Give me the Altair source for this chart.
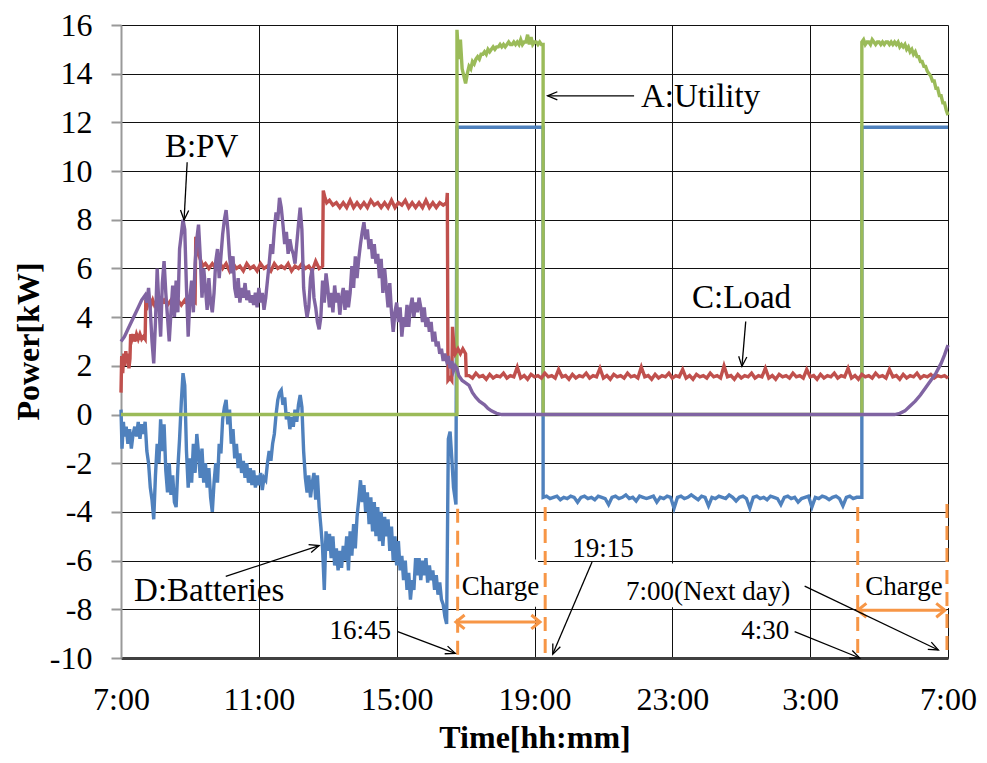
import math
import altair as alt
import pandas as pd

# ---------------- data (hours since midnight of day 1; 31 = 7:00 next day) ----------------
X_TICKS = [7, 11, 15, 19, 23, 27, 31]
Y_TICKS = [-10, -8, -6, -4, -2, 0, 2, 4, 6, 8, 10, 12, 14, 16]

# B:PV  (t, kW)
pv_day = [
    (7.00, 3.0), (7.10, 3.2), (7.20, 3.5), (7.30, 3.8), (7.40, 4.1), (7.50, 4.4), (7.60, 4.7), (7.70, 4.9),
    (7.75, 4.6), (7.80, 5.2), (7.85, 4.3), (7.90, 3.0), (7.95, 2.1), (8.00, 3.8), (8.05, 6.0), (8.10, 4.5),
    (8.15, 3.2), (8.20, 5.4), (8.25, 6.3), (8.30, 5.0), (8.35, 4.0), (8.40, 3.0), (8.45, 4.2), (8.50, 5.3),
    (8.55, 4.0), (8.60, 5.5), (8.65, 4.2), (8.70, 6.8), (8.75, 7.4), (8.80, 8.0), (8.85, 7.6), (8.90, 5.2),
    (8.95, 3.2), (9.00, 4.8), (9.05, 5.5), (9.10, 4.2), (9.15, 6.2), (9.20, 7.2), (9.25, 7.8), (9.30, 6.5),
    (9.35, 4.8), (9.40, 6.0), (9.45, 5.2), (9.50, 4.3), (9.55, 5.6), (9.60, 4.6), (9.65, 4.2), (9.70, 5.0),
    (9.75, 6.3), (9.80, 6.8), (9.85, 5.6), (9.90, 6.5), (9.95, 7.4), (10.00, 8.0), (10.05, 8.4), (10.10, 7.6),
    (10.15, 6.5), (10.20, 5.8), (10.25, 6.5), (10.30, 5.2), (10.35, 4.8), (10.40, 5.6), (10.45, 4.6), (10.50, 5.2),
    (10.55, 4.8), (10.60, 5.4), (10.65, 4.7), (10.70, 5.1), (10.75, 4.6), (10.80, 4.9), (10.85, 4.5), (10.90, 5.0),
    (10.95, 4.4), (11.00, 5.2), (11.05, 4.6), (11.10, 5.0), (11.15, 4.3), (11.20, 4.8), (11.25, 5.5), (11.30, 6.2),
    (11.35, 7.0), (11.40, 6.6), (11.45, 7.6), (11.50, 8.3), (11.55, 8.0), (11.60, 8.9), (11.65, 8.5), (11.70, 7.8),
    (11.75, 7.0), (11.80, 7.5), (11.85, 6.6), (11.90, 7.2), (11.95, 6.8), (12.00, 6.6), (12.05, 6.2), (12.10, 7.0),
    (12.15, 7.8), (12.20, 8.5), (12.25, 7.6), (12.30, 5.2), (12.35, 4.5), (12.40, 4.0), (12.45, 4.4), (12.50, 5.6),
    (12.55, 6.0), (12.60, 4.8), (12.65, 4.4), (12.70, 3.8), (12.75, 3.5), (12.80, 4.0), (12.85, 5.5), (12.90, 4.6),
    (12.95, 5.8), (13.00, 5.2), (13.05, 4.4), (13.10, 5.0), (13.15, 4.2), (13.20, 5.3), (13.25, 4.6), (13.30, 5.0),
    (13.35, 4.1), (13.40, 4.8), (13.45, 5.2), (13.50, 4.3), (13.55, 5.1), (13.60, 4.4), (13.65, 5.0), (13.70, 6.1),
    (13.75, 5.2), (13.80, 6.5), (13.85, 5.6), (13.90, 6.4), (13.95, 7.0), (14.00, 7.5), (14.05, 7.9), (14.10, 7.2),
    (14.15, 7.6), (14.20, 6.8), (14.25, 7.2), (14.30, 6.4), (14.35, 7.0), (14.40, 6.2), (14.45, 6.6), (14.50, 5.6),
    (14.55, 6.4), (14.60, 5.0), (14.65, 6.0), (14.70, 5.2), (14.75, 4.4), (14.80, 5.4), (14.85, 4.2), (14.90, 3.4),
    (14.95, 4.2), (15.00, 4.6), (15.05, 3.8), (15.10, 4.4), (15.15, 3.2), (15.20, 4.0), (15.25, 3.6), (15.30, 4.5),
    (15.35, 3.6), (15.40, 4.4), (15.45, 4.8), (15.50, 4.0), (15.55, 4.6), (15.60, 4.2), (15.65, 4.8), (15.70, 4.4),
    (15.75, 3.8), (15.80, 4.4), (15.85, 3.6), (15.90, 4.0), (15.95, 3.4), (16.00, 3.8), (16.05, 3.0), (16.10, 3.4),
    (16.15, 2.8), (16.20, 3.0), (16.25, 2.5), (16.30, 2.7), (16.35, 2.2), (16.40, 2.5), (16.45, 2.2), (16.50, 2.4),
    (16.55, 1.9), (16.60, 2.2), (16.65, 1.8), (16.70, 2.0), (16.75, 1.9), (16.80, 1.6), (16.85, 1.5), (16.90, 1.4),
    (17.00, 1.3), (17.10, 1.2), (17.20, 0.9), (17.30, 0.7), (17.40, 0.55), (17.55, 0.4), (17.65, 0.25), (17.75, 0.15),
    (17.90, 0.05), (18.05, 0.0),
]
pv_night = [(29.45, 0.0)]
pv_morning = [(29.60, 0.05), (29.75, 0.15), (29.90, 0.35), (30.05, 0.55), (30.20, 0.8), (30.35, 1.1),
              (30.50, 1.4), (30.65, 1.7), (30.80, 2.1), (30.90, 2.45), (31.00, 2.85)]

# C:Load
load_day = [
    (7.00, 0.9), (7.02, 2.4), (7.05, 1.7), (7.08, 2.5), (7.11, 2.0), (7.14, 2.6), (7.17, 2.1), (7.20, 2.5),
    (7.23, 1.9), (7.26, 2.3), (7.28, 3.3), (7.32, 3.1), (7.36, 3.3), (7.40, 3.0), (7.45, 3.3), (7.50, 3.1),
    (7.55, 3.3), (7.60, 3.1), (7.65, 3.2), (7.70, 3.1), (7.72, 4.7), (7.77, 4.5), (7.82, 4.8), (7.87, 4.5),
    (7.92, 4.7), (7.97, 4.5), (8.05, 4.7), (8.15, 4.5), (8.25, 4.7), (8.35, 4.5), (8.45, 4.7), (8.55, 4.5),
    (8.65, 4.7), (8.75, 4.5), (8.85, 4.7), (8.95, 4.5), (9.05, 4.7), (9.15, 4.6), (9.17, 7.3), (9.22, 6.8),
    (9.27, 6.5), (9.32, 6.3), (9.37, 6.1), (9.45, 6.2), (9.55, 6.0), (9.65, 6.2), (9.75, 6.0), (9.85, 6.3),
    (9.95, 6.0), (10.05, 6.2), (10.15, 5.9), (10.25, 6.2), (10.35, 6.0), (10.45, 6.1), (10.55, 5.9), (10.65, 6.2),
    (10.75, 6.0), (10.85, 6.1), (10.95, 5.9), (11.05, 6.2), (11.15, 6.0), (11.25, 6.1), (11.35, 5.9), (11.45, 6.2),
    (11.55, 6.0), (11.65, 6.1), (11.75, 6.0), (11.85, 6.2), (11.95, 5.9), (12.05, 6.1), (12.15, 6.0), (12.25, 6.2),
    (12.35, 6.0), (12.45, 6.1), (12.55, 5.9), (12.65, 6.3), (12.75, 6.0), (12.85, 6.1), (12.87, 9.2), (12.92, 8.9),
    (12.97, 8.7), (13.05, 8.8), (13.15, 8.6), (13.25, 8.7), (13.35, 8.5), (13.45, 8.7), (13.55, 8.5), (13.65, 8.8),
    (13.75, 8.5), (13.85, 8.7), (13.95, 8.5), (14.05, 8.7), (14.15, 8.5), (14.25, 8.8), (14.35, 8.6), (14.45, 8.7),
    (14.55, 8.5), (14.65, 8.7), (14.75, 8.5), (14.85, 8.8), (14.95, 8.5), (15.05, 8.7), (15.15, 8.6), (15.25, 8.8),
    (15.35, 8.5), (15.45, 8.7), (15.55, 8.5), (15.65, 8.7), (15.75, 8.5), (15.85, 8.8), (15.95, 8.5), (16.05, 8.7),
    (16.15, 8.5), (16.25, 8.7), (16.35, 8.6), (16.45, 8.7), (16.47, 9.1), (16.49, 1.4), (16.55, 1.5), (16.60, 1.4),
    (16.62, 3.6), (16.66, 2.8), (16.70, 2.5), (16.78, 2.7), (16.85, 2.5), (16.92, 2.7), (17.00, 2.5), (17.02, 1.6),
]
LOAD_NIGHT_T0, LOAD_NIGHT_STEP = 17.1, 0.1
load_night = [
    1.6, 1.5, 1.7, 1.55, 1.6, 1.45, 1.65, 1.5, 1.6, 1.55,
    1.7, 1.5, 1.6, 1.55, 1.95, 1.5, 1.6, 1.45, 1.65, 1.55,
    1.6, 1.5, 1.7, 1.55, 1.6, 1.5, 1.85, 1.55, 1.6, 1.45,
    1.65, 1.5, 1.6, 1.55, 1.7, 1.5, 1.6, 1.55, 1.9, 1.5,
    1.6, 1.45, 1.65, 1.55, 1.6, 1.5, 1.7, 1.55, 1.6, 1.5,
    1.95, 1.55, 1.6, 1.45, 1.65, 1.5, 1.6, 1.55, 1.7, 1.5,
    1.6, 1.55, 1.85, 1.5, 1.6, 1.45, 1.65, 1.55, 1.6, 1.5,
    1.7, 1.55, 1.6, 1.5, 2.0, 1.55, 1.6, 1.45, 1.65, 1.5,
    1.6, 1.55, 1.7, 1.5, 1.6, 1.55, 1.9, 1.5, 1.6, 1.45,
    1.65, 1.55, 1.6, 1.5, 1.7, 1.55, 1.6, 1.5, 1.85, 1.55,
    1.6, 1.45, 1.65, 1.5, 1.6, 1.55, 1.7, 1.5, 1.6, 1.55,
    1.9, 1.5, 1.6, 1.45, 1.65, 1.55, 1.6, 1.5, 1.7, 1.55,
    1.6, 1.5, 1.85, 1.55, 1.6, 1.45, 1.65, 1.5, 1.6, 1.55,
    1.7, 1.5, 1.6, 1.55, 1.65, 1.5, 1.6, 1.55, 1.6, 1.5,
]

# D:Batteries
batt_day = [
    (7.00, 0.2), (7.03, -1.4), (7.07, -0.3), (7.10, -0.9), (7.15, -0.5), (7.20, -1.2), (7.25, -0.6), (7.30, -1.4),
    (7.35, -0.8), (7.40, -0.5), (7.45, -0.9), (7.50, -0.3), (7.55, -1.0), (7.60, -0.4), (7.65, -0.8), (7.70, -0.3),
    (7.75, -1.5), (7.80, -2.0), (7.85, -3.0), (7.90, -3.5), (7.95, -4.3), (8.00, -2.5), (8.05, -1.2), (8.10, -2.0),
    (8.15, -0.2), (8.20, -1.5), (8.25, -0.4), (8.30, -2.3), (8.35, -3.2), (8.40, -2.0), (8.45, -3.3), (8.50, -2.5),
    (8.55, -3.6), (8.60, -3.8), (8.65, -2.2), (8.70, -1.0), (8.75, 0.5), (8.80, 1.7), (8.85, 1.2), (8.90, -1.5),
    (8.95, -3.0), (9.00, -1.8), (9.05, -2.8), (9.10, -1.2), (9.15, -2.4), (9.20, -0.8), (9.25, -1.6), (9.30, -2.6),
    (9.35, -1.4), (9.40, -2.8), (9.45, -2.0), (9.50, -3.0), (9.55, -2.2), (9.60, -3.4), (9.65, -4.0), (9.70, -2.8),
    (9.75, -2.0), (9.80, -2.8), (9.85, -1.2), (9.90, -1.6), (9.95, -0.2), (10.00, 0.3), (10.05, 0.6), (10.10, -0.4),
    (10.15, 0.2), (10.20, -1.2), (10.25, -0.6), (10.30, -1.8), (10.35, -1.2), (10.40, -2.2), (10.45, -1.6), (10.50, -2.4),
    (10.55, -1.9), (10.60, -2.6), (10.65, -2.0), (10.70, -2.8), (10.75, -2.2), (10.80, -2.9), (10.85, -2.3), (10.90, -3.0),
    (10.95, -2.5), (11.00, -2.9), (11.05, -2.4), (11.10, -3.1), (11.15, -2.6), (11.20, -2.7), (11.25, -2.0), (11.30, -1.5),
    (11.35, -1.9), (11.40, -1.2), (11.45, -0.8), (11.50, 0.0), (11.55, 0.6), (11.60, 0.9), (11.65, 1.0), (11.70, 0.4),
    (11.75, 0.7), (11.80, -0.2), (11.85, 0.1), (11.90, -0.6), (11.95, -0.1), (12.00, -0.5), (12.05, 0.2), (12.10, -0.3),
    (12.15, 0.4), (12.20, 0.8), (12.25, 0.3), (12.30, -1.5), (12.35, -2.6), (12.40, -3.2), (12.45, -2.5), (12.50, -3.4),
    (12.55, -2.8), (12.60, -2.4), (12.65, -3.5), (12.70, -2.5), (12.75, -3.8), (12.80, -4.6), (12.85, -5.5), (12.90, -7.2),
    (12.95, -4.8), (13.00, -5.6), (13.05, -4.9), (13.10, -5.9), (13.15, -5.0), (13.20, -6.2), (13.25, -5.5), (13.30, -6.4),
    (13.35, -5.6), (13.40, -6.3), (13.45, -5.4), (13.50, -6.0), (13.55, -5.0), (13.60, -6.4), (13.65, -4.8), (13.70, -5.8),
    (13.75, -4.5), (13.80, -5.5), (13.85, -4.2), (13.90, -3.5), (13.95, -2.7), (14.00, -3.6), (14.05, -2.9), (14.10, -4.0),
    (14.15, -3.2), (14.20, -4.5), (14.25, -3.4), (14.30, -4.8), (14.35, -3.6), (14.40, -5.0), (14.45, -3.8), (14.50, -5.2),
    (14.55, -4.0), (14.60, -5.4), (14.65, -4.2), (14.70, -5.0), (14.75, -4.3), (14.80, -5.6), (14.85, -4.6), (14.90, -6.0),
    (14.95, -5.0), (15.00, -6.2), (15.05, -5.2), (15.10, -6.4), (15.15, -5.8), (15.20, -6.8), (15.25, -6.0), (15.30, -7.2),
    (15.35, -6.5), (15.40, -7.6), (15.45, -6.8), (15.50, -7.2), (15.55, -5.9), (15.60, -6.6), (15.65, -5.9), (15.70, -6.8),
    (15.75, -6.0), (15.80, -6.6), (15.85, -5.9), (15.90, -6.9), (15.95, -6.2), (16.00, -6.8), (16.05, -6.4), (16.10, -7.2),
    (16.15, -6.6), (16.20, -7.4), (16.25, -6.9), (16.30, -7.6), (16.35, -7.8), (16.40, -8.3), (16.45, -8.6), (16.50, -1.0),
    (16.55, -0.7), (16.60, -1.8), (16.65, -3.0), (16.72, -3.7),
]
batt_charge1 = [(16.75, 11.8), (19.25, 11.8)]
BATT_NIGHT_T0, BATT_NIGHT_STEP = 19.25, 0.1
batt_night = [
    -3.4, -3.35, -3.45, -3.4, -3.35, -3.5, -3.4, -3.45, -3.35, -3.4,
    -3.6, -3.4, -3.35, -3.45, -3.4, -3.5, -3.35, -3.4, -3.45, -3.7,
    -3.4, -3.35, -3.45, -3.4, -3.3, -3.45, -3.4, -3.55, -3.35, -3.4,
    -3.45, -3.4, -3.35, -3.6, -3.4, -3.45, -3.35, -3.4, -3.85, -3.4,
    -3.35, -3.45, -3.4, -3.3, -3.4, -3.5, -3.35, -3.4, -3.75, -3.4,
    -3.45, -3.35, -3.4, -3.45, -3.3, -3.4, -3.55, -3.4, -3.35, -3.45,
    -3.85, -3.4, -3.35, -3.45, -3.4, -3.5, -3.35, -3.4, -3.45, -3.7,
    -3.4, -3.35, -3.45, -3.4, -3.6, -3.45, -3.4, -3.35, -3.8, -3.4,
    -3.45, -3.35, -3.4, -3.5, -3.4, -3.35, -3.45, -3.75, -3.4, -3.35,
    -3.45, -3.4, -3.4,
]
batt_charge2 = [(28.5, -3.4), (28.5, 11.8), (31.0, 11.8)]

# A:Utility
util_off1 = [(7.0, 0.0), (16.75, 0.0)]
CHG1_T0, CHG_STEP = 16.75, 0.05
util_charge1 = [
    15.8, 14.6, 15.4, 14.2, 13.9, 13.6, 14.0, 14.3, 14.2, 14.5, 14.4, 14.6, 14.7, 14.6, 14.8, 14.8, 14.9,
    14.8, 15.0, 14.9, 15.0, 15.1, 15.0, 15.1, 15.1, 15.2, 15.1, 15.2, 15.1, 15.2, 15.3, 15.2, 15.2, 15.3,
    15.2, 15.3, 15.2, 15.4, 15.2, 15.3, 15.3, 15.6, 15.2, 15.5, 15.2, 15.3, 15.3, 15.2, 15.3, 15.2, 15.2,
]
util_off2 = [(19.25, 0.0), (28.5, 0.0)]
CHG2_T0 = 28.5
util_charge2 = [
    15.3, 15.4, 15.2, 15.3, 15.3, 15.2, 15.4, 15.3, 15.2, 15.3, 15.3, 15.2, 15.3, 15.2, 15.3, 15.3, 15.2,
    15.3, 15.2, 15.3, 15.2, 15.3, 15.1, 15.2, 15.1, 15.2, 15.0, 15.1, 14.9, 15.0, 14.8, 14.9, 14.7, 14.7,
    14.5, 14.5, 14.3, 14.3, 14.1, 14.0, 13.9, 13.7, 13.7, 13.4, 13.4, 13.1, 13.1, 12.8, 12.8, 12.5, 12.3,
]

# annotations (data coordinates)
LABELS = ["B:PV", "A:Utility", "C:Load", "D:Batteries", "16:45", "19:15", "7:00(Next day)", "4:30", "Charge", "Charge"]
LABEL_T = [9.34, 23.82, 25.01, 9.56, 13.94, 20.99, 24.04, 25.70, 18.01, 29.72]
LABEL_V = [10.57, 12.65, 4.36, -7.66, -9.24, -5.86, -7.60, -9.20, -7.42, -7.42]
LABEL_SIZE = [33, 33, 33, 33, 27, 27, 27, 27, 27, 27]

ARROW_T1 = [8.92, 21.89, 25.13, 10.04, 15.03, 20.67, 26.84, 26.55]
ARROW_V1 = [10.36, 13.09, 3.82, -6.65, -8.92, -6.06, -7.05, -8.92]
ARROW_T2 = [8.83, 19.38, 25.02, 12.75, 16.70, 19.53, 30.72, 28.44]
ARROW_V2 = [7.99, 13.09, 1.98, -5.38, -9.81, -9.84, -9.67, -10.0]

CHARGE_T1 = [16.72, 28.38]
CHARGE_T2 = [19.16, 30.91]
CHARGE_V = [-8.52, -8.04]

DASH_T = [16.77, 19.31, 28.38, 30.97]
DASH_TOP = [-3.87, -3.8, -3.8, -3.67]

# white text boxes of the annotations (they hide the grid lines behind them)
BOX_T1 = [15.03, 19.45, 21.55, 27.15]
BOX_T2 = [19.10, 22.20, 26.70, 31.06]
BOX_V1 = [-5.95, -4.98, -6.12, -6.05]
BOX_V2 = [-7.90, -5.97, -7.92, -7.95]

# ---------------- build tables ----------------
def grid_pts(t0, step, vals):
    return [(round(t0 + i * step, 3), v) for i, v in enumerate(vals)]

def table(name, parts):
    rows = [p for part in parts for p in part]
    return pd.DataFrame({"series": name, "t": [r[0] for r in rows], "v": [r[1] for r in rows],
                         "idx": list(range(len(rows)))})

df_batt = table("D:Batteries", [batt_day, batt_charge1, grid_pts(BATT_NIGHT_T0, BATT_NIGHT_STEP, batt_night), batt_charge2])
df_util = table("A:Utility", [util_off1, grid_pts(CHG1_T0, CHG_STEP, util_charge1), util_off2, grid_pts(CHG2_T0, CHG_STEP, util_charge2)])
df_load = table("C:Load", [load_day, grid_pts(LOAD_NIGHT_T0, LOAD_NIGHT_STEP, load_night)])
df_pv = table("B:PV", [pv_day, pv_night, pv_morning])

W, H = 827, 633
XD, YD = [7, 31], [-10, 16]
PXH = W / (XD[1] - XD[0])
PXV = H / (YD[1] - YD[0])

def heading(t1, v1, t2, v2):
    dx = (t2 - t1) * PXH
    dy = -(v2 - v1) * PXV
    return math.degrees(math.atan2(dy, dx)) % 360

df_lab = pd.DataFrame({"label": LABELS, "t": LABEL_T, "v": LABEL_V, "fs": LABEL_SIZE})
df_arr = pd.DataFrame({"t1": ARROW_T1, "v1": ARROW_V1, "t2": ARROW_T2, "v2": ARROW_V2})
df_arr["ang"] = [heading(a, b, c, d) for a, b, c, d in zip(ARROW_T1, ARROW_V1, ARROW_T2, ARROW_V2)]
df_chg = pd.DataFrame({"t1": CHARGE_T1, "t2": CHARGE_T2, "v": CHARGE_V})
df_chg_heads = pd.DataFrame({"t": CHARGE_T1 + CHARGE_T2, "v": CHARGE_V + CHARGE_V,
                             "ang": [180, 180, 0, 0]})
df_dash = pd.DataFrame({"t": DASH_T, "top": DASH_TOP, "bottom": [-10] * len(DASH_T)})
df_box = pd.DataFrame({"t1": BOX_T1, "t2": BOX_T2, "v1": BOX_V1, "v2": BOX_V2})

# ---------------- chart ----------------
FONT = "Liberation Serif"
xs = alt.Scale(domain=XD, nice=False, zero=False)
ys = alt.Scale(domain=YD, nice=False, zero=False)

x_axis = alt.Axis(values=X_TICKS, labelExpr="(datum.value % 24) + ':00'", title="Time[hh:mm]",
                  grid=True, gridColor="#111", gridWidth=1, ticks=False,
                  domainColor="#404040", domainWidth=3,
                  labelFont=FONT, labelFontSize=32, labelColor="#000", labelPadding=26,
                  labelFlush=False, labelOverlap=False,
                  titleFont=FONT, titleFontSize=32, titleFontWeight="bold", titleColor="#000",
                  titleY=89, titleBaseline="alphabetic")
y_axis = alt.Axis(values=Y_TICKS, labelExpr="'' + datum.value", title="Power[kW]",
                  grid=True, gridColor="#111", gridWidth=1,
                  tickColor="#999", tickSize=10, tickWidth=2, domainColor="#999", domainWidth=2,
                  labelFont=FONT, labelFontSize=32, labelColor="#000", labelPadding=19, labelOverlap=False,
                  titleFont=FONT, titleFontSize=32, titleFontWeight="bold", titleColor="#000",
                  titleX=-93, titleY=316, titleAngle=270, titleAlign="center", titleBaseline="middle")

def X(field):
    return alt.X(field, type="quantitative", scale=xs, axis=x_axis)

def Y(field):
    return alt.Y(field, type="quantitative", scale=ys, axis=y_axis)

def series_layer(df, color):
    return alt.Chart(df).mark_line(strokeWidth=3.4, color=color).encode(
        x=X("t"), y=Y("v"), order="idx:Q")

ORANGE = "#F79646"
HEAD_BLACK = "M-1,-0.42L0,0L-1,0.42"
HEAD_ORANGE = "M-1,-0.8L0,0L-1,0.8"

boxes = alt.Chart(df_box).mark_rect(color="white", opacity=1).encode(
    x=X("t1"), x2="t2:Q", y=Y("v1"), y2="v2:Q")
dash = alt.Chart(df_dash).mark_rule(color=ORANGE, strokeWidth=3, strokeDash=[14, 8]).encode(
    x=X("t"), y=Y("top"), y2="bottom:Q")
chg_line = alt.Chart(df_chg).mark_rule(color=ORANGE, strokeWidth=3).encode(
    x=X("t1"), x2="t2:Q", y=Y("v"))
chg_heads = alt.Chart(df_chg_heads).mark_point(shape=HEAD_ORANGE, filled=False, strokeWidth=3,
                                               opacity=1, color=ORANGE, size=300).encode(
    x=X("t"), y=Y("v"), angle=alt.Angle("ang:Q", scale=None))
arr_line = alt.Chart(df_arr).mark_rule(color="#000", strokeWidth=1.3).encode(
    x=X("t1"), y=Y("v1"), x2="t2:Q", y2="v2:Q")
arr_heads = alt.Chart(df_arr).mark_point(shape=HEAD_BLACK, filled=False, strokeWidth=1.3,
                                         opacity=1, color="#000", size=380).encode(
    x=X("t2"), y=Y("v2"), angle=alt.Angle("ang:Q", scale=None))
labels = alt.Chart(df_lab).mark_text(font=FONT, color="#000", align="center", baseline="alphabetic").encode(
    x=X("t"), y=Y("v"), text="label:N", size=alt.Size("fs:Q", scale=None))

chart = alt.layer(
    boxes,
    series_layer(df_batt, "#4F81BD"),
    series_layer(df_util, "#9BBB59"),
    series_layer(df_load, "#C0504D"),
    series_layer(df_pv, "#8064A2"),
    dash, chg_line, chg_heads, arr_line, arr_heads, labels,
).properties(
    width=W, height=H,
    padding={"left": 113, "top": 17, "right": 31, "bottom": 97},
    autosize=alt.AutoSizeParams(type="none"),
    background="white",
).configure_view(stroke=None)

chart.save("out.html", embed_options={"renderer": "svg", "actions": False})
